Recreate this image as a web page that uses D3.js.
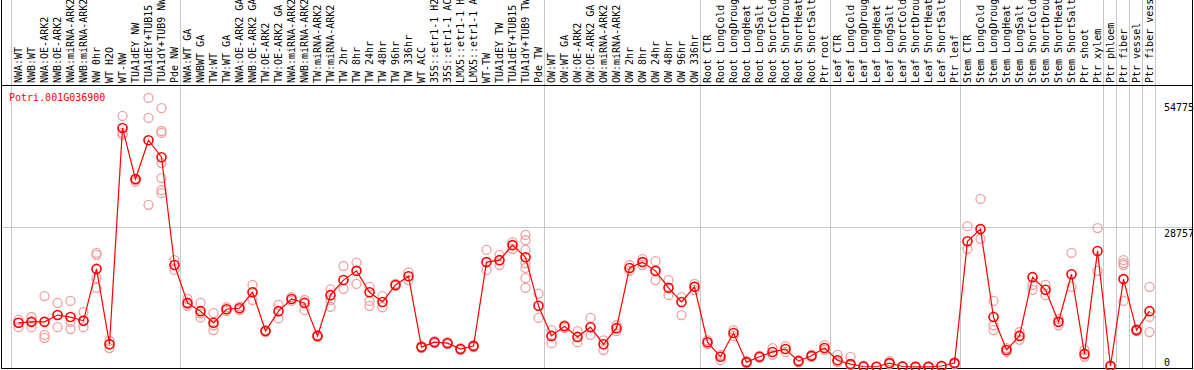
<!DOCTYPE html>
<html><head><meta charset="utf-8">
<script src="https://cdn.jsdelivr.net/npm/d3@7"></script>
<style>body{margin:0;background:#fff}svg{display:block}</style>
</head><body>
<script>
const geneId = "Potri.001G036900";
const labels = ["NWA:WT","NWB:WT","NWA:OE-ARK2","NWB:OE-ARK2","NWA:miRNA-ARK2","NWB:miRNA-ARK2","NW 0hr","WT H2O","WT-NW","TUA1dEY NW","TUA1dEY+TUB15","TUA1dY+TUB9 NW","Pde NW",
"NWA:WT GA","NWBWT GA","TW:WT","TW:WT GA","NWA:OE-ARK2 GA","NWB:OE-ARK2 GA","TW:OE-ARK2","TW:OE-ARK2 GA","NWA:miRNA-ARK2","NWB:miRNA-ARK2","TW:miRNA-ARK2","TW:miRNA-ARK2","TW 2hr","TW 8hr","TW 24hr","TW 48hr","TW 96hr","TW 336hr","WT ACC","35S::etr1-1 H2O","35S::etr1-1 ACC","LMX5::etr1-1 H2O","LMX5::etr1-1 ACC","WT-TW","TUA1dEY TW","TUA1dEY+TUB15 TW","TUA1dY+TUB9 TW","Pde TW",
"OW:WT","OW:WT GA","OW:OE-ARK2","OW:OE-ARK2 GA","OW:miRNA-ARK2","OW:miRNA-ARK2","OW 2hr","OW 8hr","OW 24hr","OW 48hr","OW 96hr","OW 336hr",
"Root CTR","Root LongCold","Root LongDrought","Root LongHeat","Root LongSalt","Root ShortCold","Root ShortDrought","Root ShortHeat","Root ShortSalt","Ptr root",
"Leaf CTR","Leaf LongCold","Leaf LongDrought","Leaf LongHeat","Leaf LongSalt","Leaf ShortCold","Leaf ShortDrought","Leaf ShortHeat","Leaf ShortSalt","Ptr leaf",
"Stem CTR","Stem LongCold","Stem LongDrought","Stem LongHeat","Stem LongSalt","Stem ShortCold","Stem ShortDrought","Stem ShortHeat","Stem ShortSalt","Ptr shoot","Ptr xylem",
"Ptr phloem","Ptr fiber","Ptr vessel","Ptr fiber vessel"];
const means = [9100,9300,9300,10700,10300,9500,20200,4700,49200,38700,46700,43200,21000,
13200,11500,9100,11900,12100,15400,7400,11500,14000,13200,6400,14800,17900,19800,15400,13400,16900,18700,4100,5100,4900,3700,4300,21600,22000,25100,22600,12600,
6400,8400,6200,8200,4700,8000,20400,21600,19800,16300,13400,16500,
5100,2100,7000,1000,2100,3100,3700,1200,2300,3900,
1400,600,100,50,800,100,30,30,200,800,
25900,28400,10300,3500,6400,18500,15900,9300,19100,2700,23900,
200,18100,7600,11500];
const reps = [[9700,9100,8200],[10300,9300,8200],[14600,6600,6000],[13200,10700,8200],[13600,9300,7800],[11300,9500,8200],[23500,23100,18300,16300],[5400,3900,4700],[51700,48200,47800],[38500,38100,38700],[55400,51300,33400],[53300,48600,48200,42000,38900,36400,35800],[22000,20000],
[14000,12600,13000],[13200,10200,11000],[11100,7600,8600],[12300,11500],[12500,11700],[16900,13800],[7600,7200],[12800,10000],[14400,13600],[13800,11700],[6600,6200],[16000,13800,12400],[20800,16100],[21500,17100],[16500,13600,12600],[14600,12300],[17100,16700],[19500,17900],[4300,3900],[5300,4900],[5100,4700],[3900,3500],[4500,4100],[24100,20000],[23100,21000],[25700,24300],[27200,26100,24100,21400,20400,18300,16300],[15100,10100],
[7600,4900],[8600,8000],[7400,5100],[10100,6600],[5500,3500],[8600,7400],[21000,19800],[22200,21000],[21800,17900],[17900,14800],[14400,10700],[17100,15900],
[5500,4700],[2500,1400],[7600,6400],[1200,800],[2300,1900],[3900,2500],[4300,3100],[1400,1000],[2500,2100],[4500,3500],
[2500,1000],[2100,400],[300,0],[100,0],[1200,600],[200,0],[100,0],[100,0],[300,100],[1000,600],
[29000,24300],[34600,26400],[13600,8600,7600],[3900,3100],[7200,5600],[16900,15900],[16900,14800],[9900,8600],[23500,16500],[3500,2100],[28600,19800],
[300,100],[22000,21400,21000,13600],[7800,7400],[16500,10300,7200]];
const yTicks = [0, 28757, 54775];
const groupStarts = [0,13,41,53,63,73,84,85,86,87,88];

const W = 1194, H = 370;
const svg = d3.select("body").append("svg").attr("width", W).attr("height", H)
  .style("font-family", "'DejaVu Sans Mono', monospace");

const x = d3.scaleBand().domain(d3.range(labels.length)).range([11, 1155]).padding(0);
const y = d3.scaleLinear().domain([0, 54775]).range([367, 101]);
const gx = k => x.range()[0] + k * x.step();
const cx = i => x(i) + 7.5;

// grid: vertical group separators
svg.append("g").selectAll("line").data(groupStarts).join("line")
  .attr("x1", k => Math.round(gx(k)) + 0.5).attr("x2", k => Math.round(gx(k)) + 0.5)
  .attr("y1", 0).attr("y2", 369)
  .attr("stroke", "#c8c8c8").attr("stroke-width", 1).attr("shape-rendering", "crispEdges");

// horizontal grid at middle tick
svg.append("line")
  .attr("x1", 1).attr("x2", 1192)
  .attr("y1", Math.round(y(yTicks[1])) + 0.5).attr("y2", Math.round(y(yTicks[1])) + 0.5)
  .attr("stroke", "#c8c8c8").attr("shape-rendering", "crispEdges");

// frame
const frame = svg.append("g").attr("stroke", "#000").attr("shape-rendering", "crispEdges");
frame.append("line").attr("x1", 1.5).attr("x2", 1.5).attr("y1", 0).attr("y2", 369);
frame.append("line").attr("x1", 1192.5).attr("x2", 1192.5).attr("y1", 0).attr("y2", 369);
frame.append("line").attr("x1", 1).attr("x2", 1193).attr("y1", 85.5).attr("y2", 85.5);
frame.append("line").attr("x1", 1).attr("x2", 1193).attr("y1", 368.5).attr("y2", 368.5);

// column labels
svg.append("g").selectAll("text").data(labels).join("text")
  .attr("transform", (d, i) => `translate(${cx(i) + 3.5},83) rotate(-90)`)
  .attr("font-size", 10).attr("fill", "#000")
  .text(d => d);

// y tick labels
svg.append("g").selectAll("text").data(yTicks).join("text")
  .attr("x", 1164)
  .attr("y", d => d === 0 ? 366 : y(d) + 10)
  .attr("font-size", 10).attr("fill", "#000")
  .text(d => d);

// gene label
svg.append("text").attr("x", 9).attr("y", 101).attr("font-size", 10).attr("fill", "#ff0000").text(geneId);

// replicates
const repPts = reps.flatMap((arr, i) => arr.map(v => ({i, v})));
svg.append("g").selectAll("circle").data(repPts).join("circle")
  .attr("cx", d => cx(d.i)).attr("cy", d => y(d.v)).attr("r", 4.5)
  .attr("fill", "none").attr("stroke", "#f0a0a0").attr("stroke-width", 1.3);

// mean line
svg.append("path").datum(means)
  .attr("d", d3.line().x((d, i) => cx(i)).y(d => y(d)))
  .attr("fill", "none").attr("stroke", "#ff0000").attr("stroke-width", 1.2);

// mean circles
svg.append("g").selectAll("circle").data(means).join("circle")
  .attr("cx", (d, i) => cx(i)).attr("cy", d => y(d)).attr("r", 4.5)
  .attr("fill", "none").attr("stroke", "#ff0000").attr("stroke-width", 1.6);
</script>
</body></html>
